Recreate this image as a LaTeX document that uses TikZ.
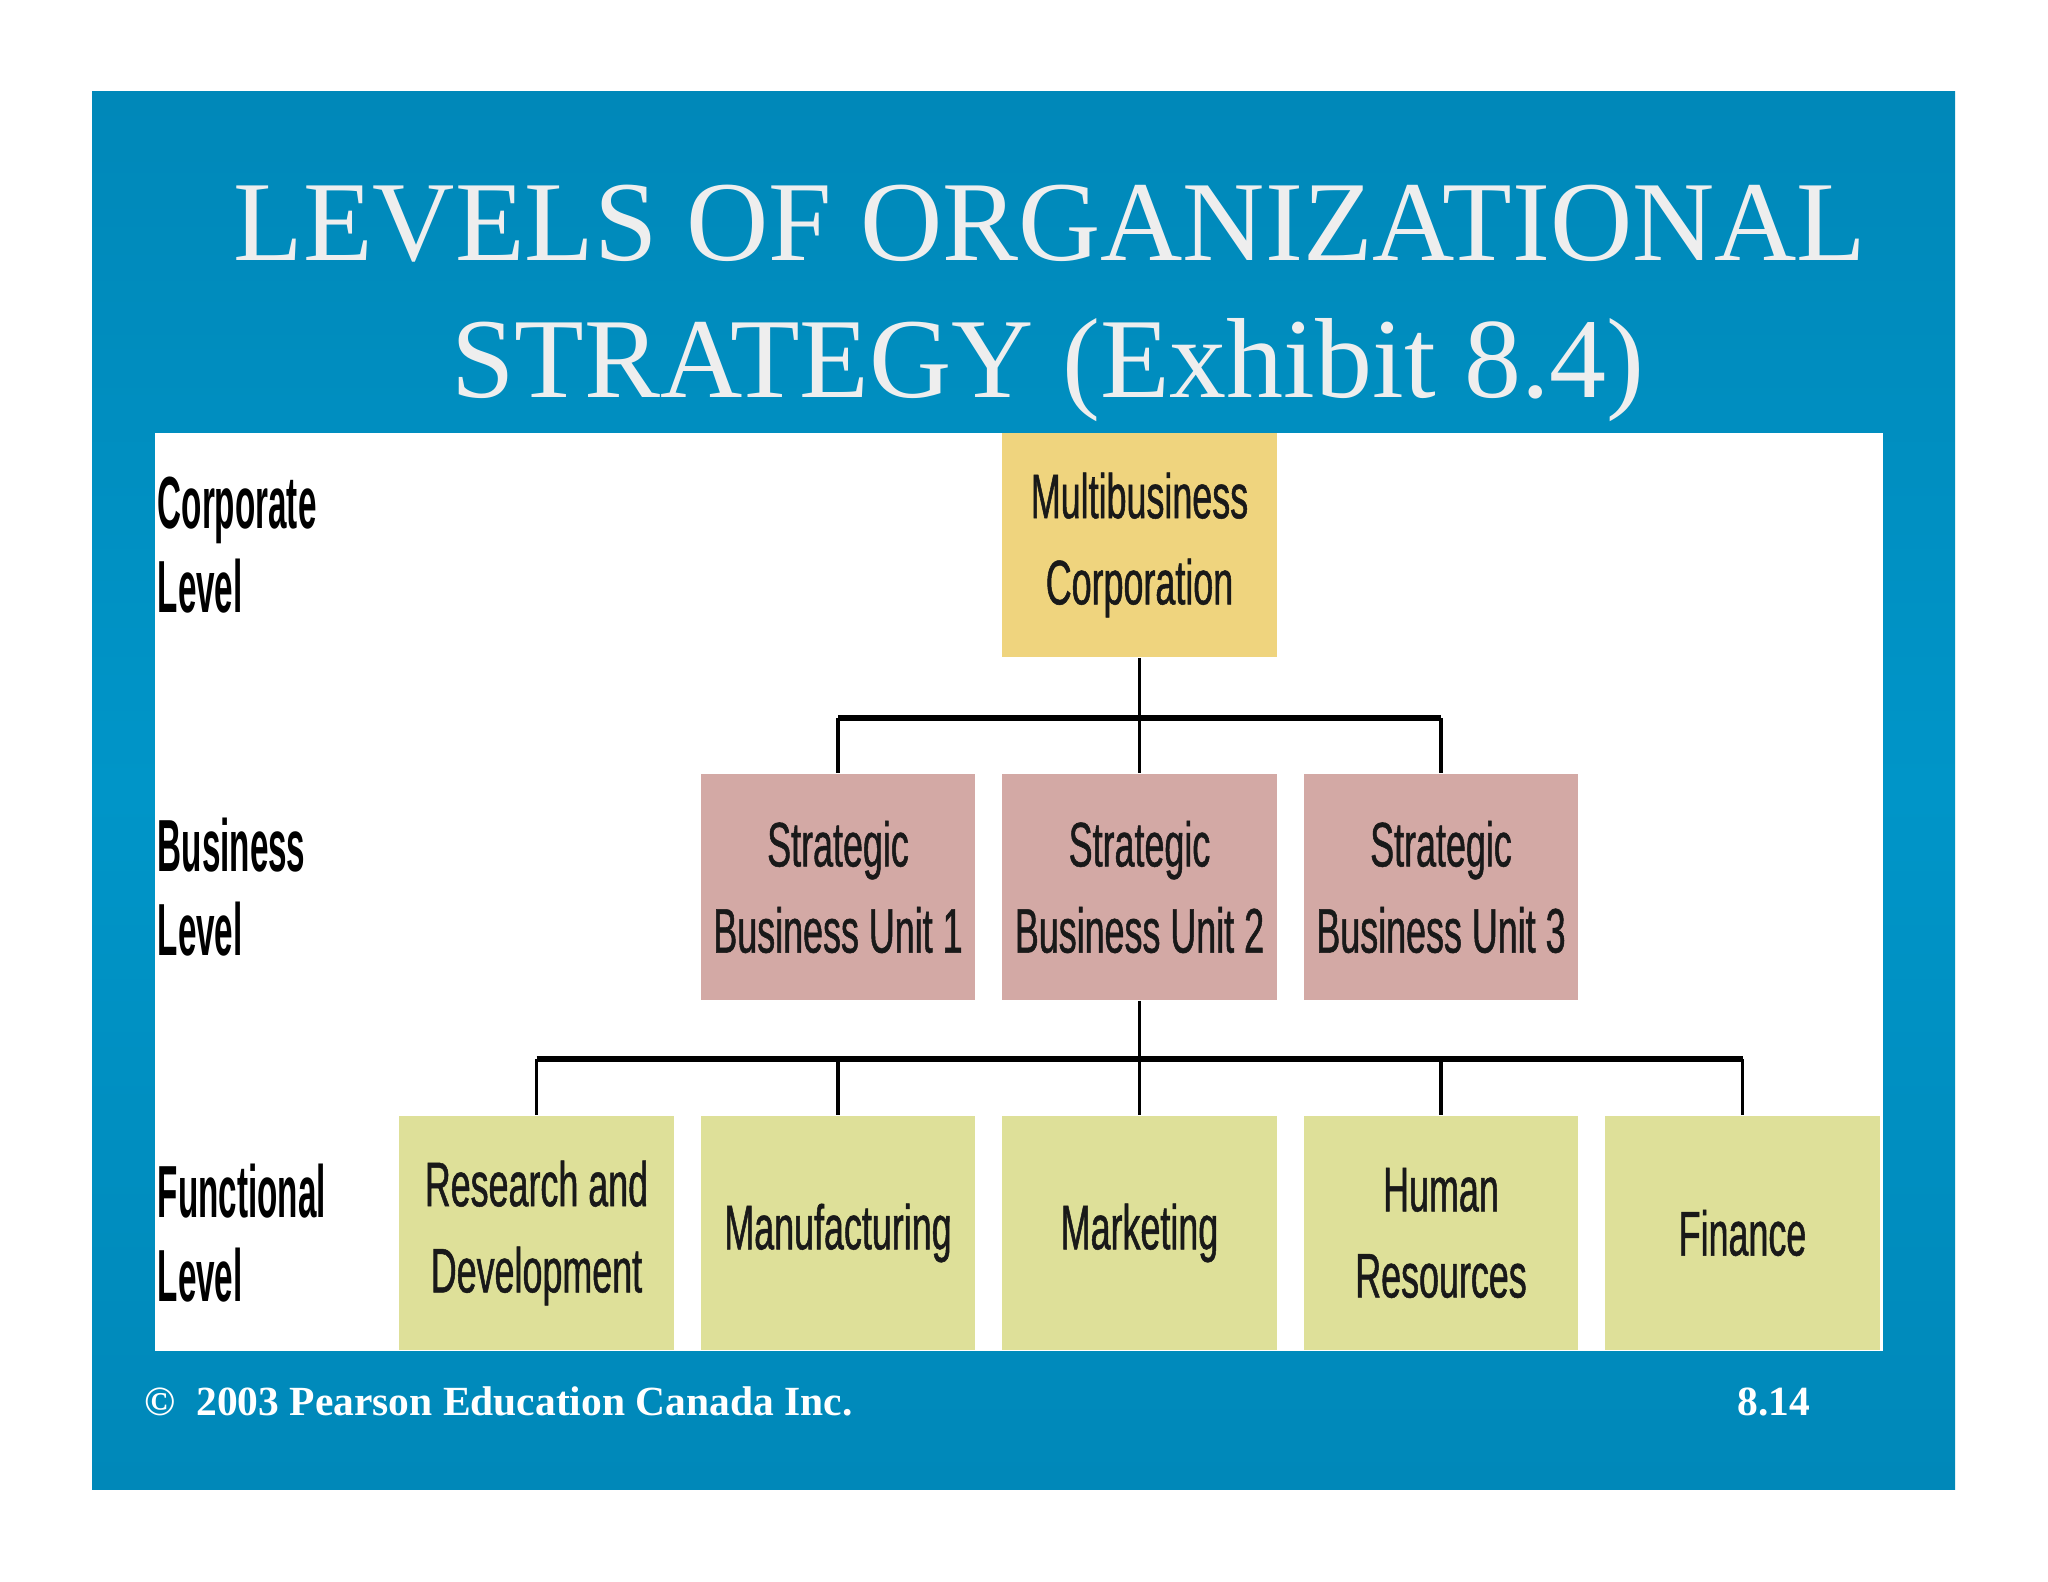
\documentclass[tikz,border=0pt]{standalone}
\usepackage{fontspec}
\setmainfont{Liberation Serif}
\newfontfamily\boxfont[FakeStretch=0.57,FakeBold=0.8]{Liberation Sans}
\newfontfamily\lvlfont[FakeStretch=0.45]{Liberation Sans}
\usetikzlibrary{positioning,calc}

\definecolor{slideblue}{HTML}{0088B9}
\definecolor{slidebluelight}{HTML}{0095C8}
\definecolor{corpfill}{HTML}{EFD47E}
\definecolor{sbufill}{HTML}{D3A9A5}
\definecolor{funcfill}{HTML}{DEE099}
\definecolor{titlegrey}{HTML}{EEEEEE}

\begin{document}
\begin{tikzpicture}[x=0.01cm,y=-0.01cm,
	unit/.style={minimum width=2.74cm,inner sep=0pt,align=center,text=black!90,
		font=\boxfont\fontsize{17.9pt}{24.5pt}\selectfont},
	corpbox/.style={unit,fill=corpfill,minimum height=2.24cm},
	sbubox/.style={unit,fill=sbufill,minimum height=2.26cm},
	funcbox/.style={unit,fill=funcfill,minimum height=2.34cm},
	lvl/.style={anchor=west,inner sep=0pt,align=left,
		font=\lvlfont\bfseries\fontsize{21pt}{23.9pt}\selectfont},
	heading/.style={anchor=base,inner sep=0pt,text=titlegrey,
		font=\fontsize{32.4pt}{38.7pt}\selectfont},
	foot/.style={inner sep=0pt,text=white,font=\bfseries\fontsize{11.8pt}{14pt}\selectfont},
	bar/.style={line width=1.5pt},
	stub/.style={line width=0.9pt}]
	% slide
	\fill[white] (0,0) rectangle (2048,1582);
	\shade[top color=slideblue,bottom color=slideblue,middle color=slidebluelight]
		(92,92) rectangle (1955,1489);
	\fill[white] (155,433) rectangle (1883,1351);
	\node[heading] (title1) at (1050,261) {LEVELS OF ORGANIZATIONAL};
	\node[heading] (title2) at (1048,397) {STRATEGY (Exhibit 8.4)};
	% levels
	\node[corpbox] (corp) at (1139.5,545) {Multibusiness\\Corporation};
	\node[sbubox] (sbu1) at (838,887)    {Strategic\\Business Unit 1};
	\node[sbubox] (sbu2) at (1139.5,887) {Strategic\\Business Unit 2};
	\node[sbubox] (sbu3) at (1441,887)   {Strategic\\Business Unit 3};
	\node[funcbox] (rnd)  at (536.5,1233)  {Research and\\Development};
	\node[funcbox] (manu) at (838,1233)    {Manufacturing};
	\node[funcbox] (mktg) at (1139.5,1233) {Marketing};
	\node[funcbox] (hr)   at (1441,1233)   {Human\\Resources};
	\node[funcbox] (fin)  at (1742.5,1233) {Finance};
	\node[lvl] (lcorp) at (157,545)  {Corporate\\Level};
	\node[lvl] (lbus)  at (157,887)  {Business\\Level};
	\node[lvl] (lfunc) at (157,1233) {Functional\\Level};
	% connectors
	\coordinate (topbar) at (1139.5,718);
	\coordinate (lowbar) at (1139.5,1059);
	\draw[bar] (sbu1.north|-topbar) -- (sbu3.north|-topbar);
	\draw[bar] (rnd.north|-lowbar) -- (fin.north|-lowbar);
	\draw[stub] (corp.south) -- (sbu2.north);
	\foreach \n in {sbu1,sbu3} \draw[stub] (\n.north|-topbar) -- (\n.north);
	\draw[stub] (sbu2.south) -- (mktg.north);
	\foreach \n in {rnd,manu,hr,fin} \draw[stub] (\n.north|-lowbar) -- (\n.north);
	% footer
	\node[foot,anchor=base west] (copy) at (144,1415) {\textcopyright\ \ 2003 Pearson Education Canada Inc.};
	\node[foot,anchor=base east] (page) at (1811,1415) {8.14};
\end{tikzpicture}
\end{document}
